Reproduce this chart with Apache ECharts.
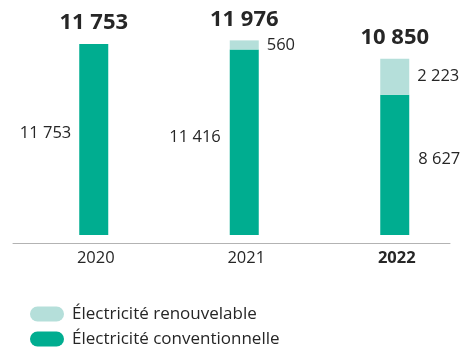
<!DOCTYPE html>
<html>
<head>
<meta charset="utf-8">
<script src="https://cdn.jsdelivr.net/npm/echarts@6/dist/echarts.min.js"></script>
<style>
  html, body { margin: 0; padding: 0; background: #fff; }
  #chart { width: 470px; height: 347px; }
</style>
</head>
<body>
<div id="chart"></div>
<script>
// Electricity consumption by year, split into conventional and renewable
const years = ['2020', '2021', '2022'];
const conventional = [11753, 11416, 8627];
const renewable = [0, 560, 2223];
const totals = years.map((_, i) => conventional[i] + renewable[i]);

const GREEN = '#00ad90';
const LIGHT = '#b5dfda';
const TEXT = '#262626';
const FONT = '"Open Sans", "Noto Sans", sans-serif';
const FS = 16.5;

const fmt = v => String(v).replace(/\B(?=(\d{3})+(?!\d))/g, ' ');

// Per-bar label placement for the conventional segments
const convLabels = [
  { position: 'left', distance: 8, offset: [0, -6] },
  { position: 'left', distance: 9, offset: [0, -5] },
  { position: 'right', distance: 9, offset: [0, -6] }
];

const chart = echarts.init(document.getElementById('chart'), null, { renderer: 'canvas' });

chart.setOption({
  animation: false,
  backgroundColor: '#fff',
  textStyle: { fontFamily: FONT },
  grid: [
    { left: 18.5, right: -4.5, top: 7.5, bottom: 103.9 },
    { left: 13, right: 20, top: 7.5, bottom: 103.9 }
  ],
  xAxis: [
    {
      type: 'category',
      gridIndex: 0,
      data: years,
      axisLine: { show: false },
      axisTick: { show: false },
      axisLabel: {
        margin: 7,
        fontSize: FS,
        color: TEXT,
        fontFamily: FONT,
        padding: [0, 0, 0, 4],
        formatter: v => v === '2022' ? '{b|' + v + '}' : v,
        rich: { b: { fontWeight: 'bold', fontSize: FS, color: TEXT, fontFamily: FONT } }
      }
    },
    {
      type: 'value',
      gridIndex: 1,
      min: 0,
      max: 1,
      axisLine: { show: true, onZero: false, lineStyle: { color: '#b3b3b3', width: 1 } },
      axisTick: { show: false },
      axisLabel: { show: false },
      splitLine: { show: false }
    }
  ],
  yAxis: [
    { type: 'value', gridIndex: 0, min: -500, max: 14000, show: false },
    { type: 'value', gridIndex: 1, min: 0, max: 1, show: false }
  ],
  legend: {
    orient: 'vertical',
    left: 30,
    top: 304,
    height: 80,
    padding: 0,
    itemWidth: 34,
    itemHeight: 15,
    itemGap: 5,
    icon: 'path://M7.5,0 H26.5 A7.5,7.5 0 0 1 26.5,15 H7.5 A7.5,7.5 0 0 1 7.5,0 Z',
    textStyle: { fontSize: 17, color: TEXT, fontFamily: FONT, lineHeight: 20, padding: [0, 0, 0, 3] },
    data: ['Électricité renouvelable', 'Électricité conventionnelle']
  },
  series: [
    {
      name: 'Électricité conventionnelle',
      type: 'bar',
      stack: 'total',
      barWidth: 29,
      itemStyle: { color: GREEN },
      data: conventional.map((v, i) => ({
        value: v,
        label: Object.assign({
          show: true,
          fontSize: FS,
          color: TEXT,
          fontFamily: FONT,
          formatter: p => fmt(p.value)
        }, convLabels[i])
      }))
    },
    {
      name: 'Électricité renouvelable',
      type: 'bar',
      stack: 'total',
      barWidth: 29,
      itemStyle: { color: LIGHT },
      data: renewable.map(v => ({
        value: v,
        label: {
          show: v > 0,
          position: 'right',
          distance: 8,
          fontSize: FS,
          color: TEXT,
          fontFamily: FONT,
          formatter: p => fmt(p.value)
        }
      }))
    },
    {
      // Zero-height cap on each stack carrying the yearly total
      name: 'total',
      type: 'bar',
      stack: 'total',
      barWidth: 29,
      silent: true,
      itemStyle: { color: 'transparent' },
      data: totals.map(() => 0),
      label: {
        show: true,
        position: 'top',
        distance: 10,
        fontSize: 22,
        fontWeight: 'bold',
        color: TEXT,
        fontFamily: FONT,
        formatter: p => fmt(totals[p.dataIndex])
      }
    }
  ]
});
</script>
</body>
</html>
